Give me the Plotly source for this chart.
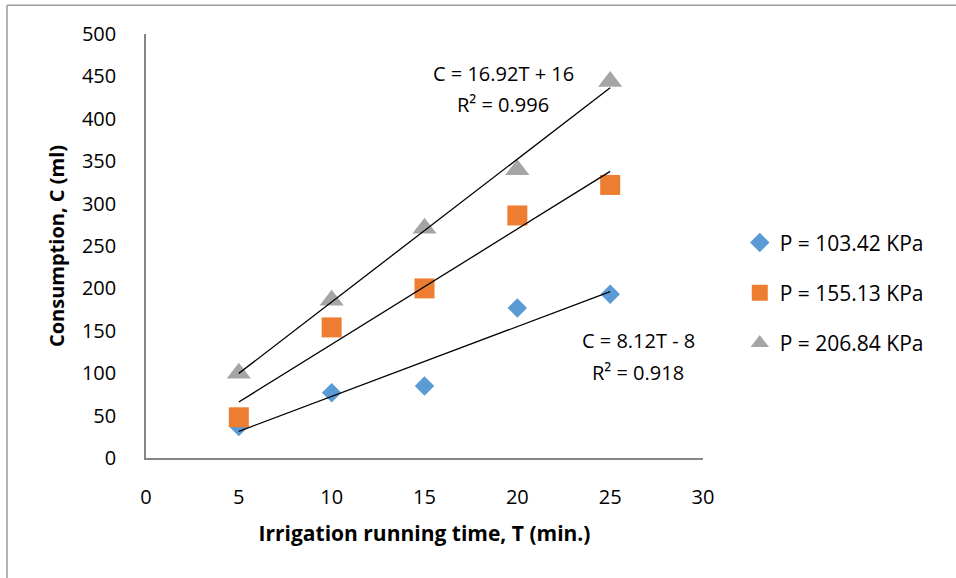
import numpy as np
import plotly.graph_objects as go

T = [5, 10, 15, 20, 25]
C_103 = [37, 77, 85, 177, 193]
C_155 = [48, 154, 200, 286, 322]
C_206 = [100, 186, 271, 340, 444]

series_names = ["P = 103.42 KPa", "P = 155.13 KPa", "P = 206.84 KPa"]
series_values = [C_103, C_155, C_206]
colors = ["#5B9BD5", "#ED7D31", "#A5A5A5"]
symbols = ["diamond", "square", "triangle-up"]
sizes = [15, 20, 21]

eq_lines = ["C = 8.12T - 8", "R² = 0.918",
            "C = 13.66T - 3.3", "R² = 0.974",
            "C = 16.92T + 16", "R² = 0.996"]
eq_pos = [(26.5, 139), (26.5, 101),
          (30.3, 340), (31.0, 298),
          (19.23, 454), (19.23, 417)]

FONT = "Open Sans"
FS = 20
fig = go.Figure()

for i, (name, vals) in enumerate(zip(series_names, series_values)):
    fig.add_trace(go.Scatter(
        x=T, y=vals, mode="markers", name=name, legendgroup=f"g{i}",
        marker=dict(symbol=symbols[i], size=sizes[i], color=colors[i],
                    line=dict(width=0)),
    ))

for vals in series_values:
    m, b = np.polyfit(T, vals, 1)
    xs = [T[0], T[-1]]
    fig.add_trace(go.Scatter(
        x=xs, y=[m * x + b for x in xs], mode="lines", showlegend=False,
        line=dict(color="black", width=1.3), hoverinfo="skip",
    ))

for txt, (x, y) in zip(eq_lines, eq_pos):
    fig.add_annotation(x=x, y=y, text=txt, showarrow=False, xanchor="center",
                       yanchor="middle", font=dict(family=FONT, size=FS, color="black"))

# outer chart border (left and top visible)
fig.add_shape(type="line", xref="paper", yref="paper", x0=-0.2496, x1=-0.2496,
              y0=-0.5, y1=1.068, line=dict(color="#9A9A9A", width=1.5))
fig.add_shape(type="line", xref="paper", yref="paper", x0=-0.2496, x1=2,
              y0=1.068, y1=1.068, line=dict(color="#9A9A9A", width=1.5))

axis_common = dict(showgrid=False, zeroline=False, showline=True,
                   linecolor="#868686", linewidth=1.6, ticks="",
                   tickfont=dict(family=FONT, size=FS, color="black"))

fig.update_xaxes(range=[0, 30], tickvals=[0, 5, 10, 15, 20, 25, 30],
                 ticklabelstandoff=20,
                 title=dict(text="<b>Irrigation running time, T (min.)</b>",
                            font=dict(family=FONT, size=21, color="black"), standoff=18),
                 **axis_common)
fig.update_yaxes(range=[0, 500], tickvals=list(range(0, 501, 50)),
                 ticklabelstandoff=24,
                 title=dict(text="<b>Consumption, C (ml)</b>",
                            font=dict(family=FONT, size=20, color="black"), standoff=12),
                 **axis_common)

fig.update_layout(
    width=956, height=578,
    margin=dict(l=146, r=253, t=34, b=120, autoexpand=False),
    plot_bgcolor="white", paper_bgcolor="white",
    legend=dict(x=1.066, y=0.556, xanchor="left", yanchor="top",
                font=dict(family=FONT, size=21, color="black"),
                tracegroupgap=20, itemwidth=30, bgcolor="rgba(0,0,0,0)"),
    showlegend=True,
)

fig.write_html("out.html", config={"displayModeBar": False},
               post_script="document.body.style.margin='0';document.body.style.overflow='hidden';")
